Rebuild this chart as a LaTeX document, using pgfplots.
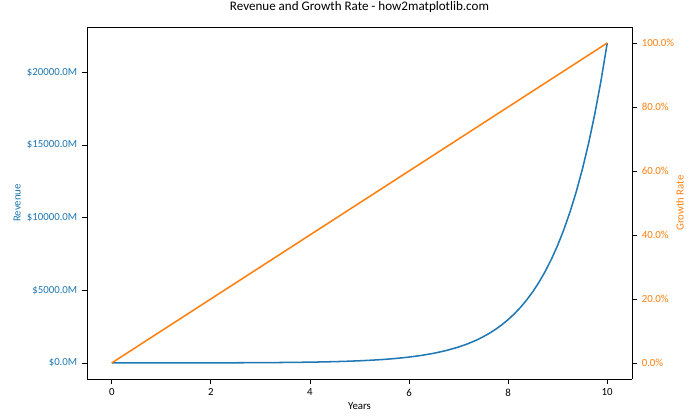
\documentclass[border=0pt]{standalone}
\usepackage{pgfplots}
\pgfplotsset{compat=1.18}
\usepackage{fontspec}
\setmainfont{Carlito}
\definecolor{cblue}{HTML}{1F77B4}
\definecolor{corange}{HTML}{FF7F0E}
\begin{document}
\begin{tikzpicture}
\pgfplotsset{
  every axis/.append style={
    scale only axis, width=392.4pt, height=253.4pt,
    xmin=-0.5, xmax=10.5,
    scaled y ticks=false, scaled x ticks=false,
    tick align=outside, major tick length=3.5pt,
    tick style={black, line width=0.6pt},
    axis line style={line width=0.6pt},
    tick label style={font=\fontsize{7.8}{9}\selectfont},
    label style={font=\fontsize{7.8}{9}\selectfont},
  }
}
\begin{axis}[
  name=ax,
  axis y line*=left,
  axis x line*=bottom,
  ymin=-1101.3, ymax=23127.8,
  xtick={0,2,4,6,8,10},
  xticklabels={0,2,4,6,8,10},
  ytick={0,5000,10000,15000,20000},
  yticklabels={\$0.0M,\$5000.0M,\$10000.0M,\$15000.0M,\$20000.0M},
  yticklabel style={text=cblue},
  xlabel={Years},
  xlabel style={at={(axis description cs:0.5,-0.077)}, anchor=center},
  ylabel={Revenue},
  ylabel style={at={(axis description cs:-0.128,0.5)}, anchor=center, text=cblue},
  title={Revenue and Growth Rate - how2matplotlib.com},
  title style={at={(axis description cs:0.5,1.034)}, anchor=center, font=\fontsize{9.4}{11}\selectfont},
]
\addplot[cblue, line width=1.1pt, mark=none] coordinates {
(0,1) (0.25,1.284) (0.5,1.6487) (0.75,2.117) (1,2.718) (1.25,3.490) (1.5,4.482) (1.75,5.755)
(2,7.389) (2.25,9.488) (2.5,12.18) (2.75,15.64) (3,20.09) (3.25,25.79) (3.5,33.12) (3.75,42.52)
(4,54.60) (4.25,70.11) (4.5,90.02) (4.75,115.58) (5,148.41) (5.25,190.57) (5.5,244.69) (5.75,314.19)
(6,403.43) (6.25,518.01) (6.5,665.14) (6.75,854.06)
(7,1096.63) (7.125,1242.65) (7.25,1408.10) (7.375,1595.59) (7.5,1808.04) (7.625,2048.78) (7.75,2321.57) (7.875,2630.69)
(8,2980.96) (8.125,3377.87) (8.25,3827.63) (8.375,4337.27) (8.5,4914.77) (8.625,5569.16) (8.75,6310.69) (8.875,7150.95)
(9,8103.08) (9.125,9182.00) (9.25,10404.57) (9.375,11789.92) (9.5,13359.73) (9.625,15138.56) (9.75,17154.23) (9.875,19438.24)
(10,22026.47)
};
\end{axis}
\begin{axis}[
  axis y line*=right,
  axis x line*=top,
  ymin=-0.05, ymax=1.05,
  xtick=\empty,
  ytick={0,0.2,0.4,0.6,0.8,1.0},
  yticklabels={0.0\%,20.0\%,40.0\%,60.0\%,80.0\%,100.0\%},
  yticklabel style={text=corange},
  ylabel={Growth Rate},
  ylabel style={at={(axis description cs:1.088,0.5)}, anchor=center, text=corange},
]
\addplot[corange, line width=1.1pt, mark=none] coordinates {
(0,0) (2,0.2) (4,0.4) (6,0.6) (8,0.8) (10,1.0)
};
\end{axis}
\pgfresetboundingbox
\path[use as bounding box] ([xshift=-62.64pt,yshift=-29.52pt]ax.south west) rectangle ([xshift=48.96pt,yshift=19.44pt]ax.north east);
\end{tikzpicture}
\end{document}
